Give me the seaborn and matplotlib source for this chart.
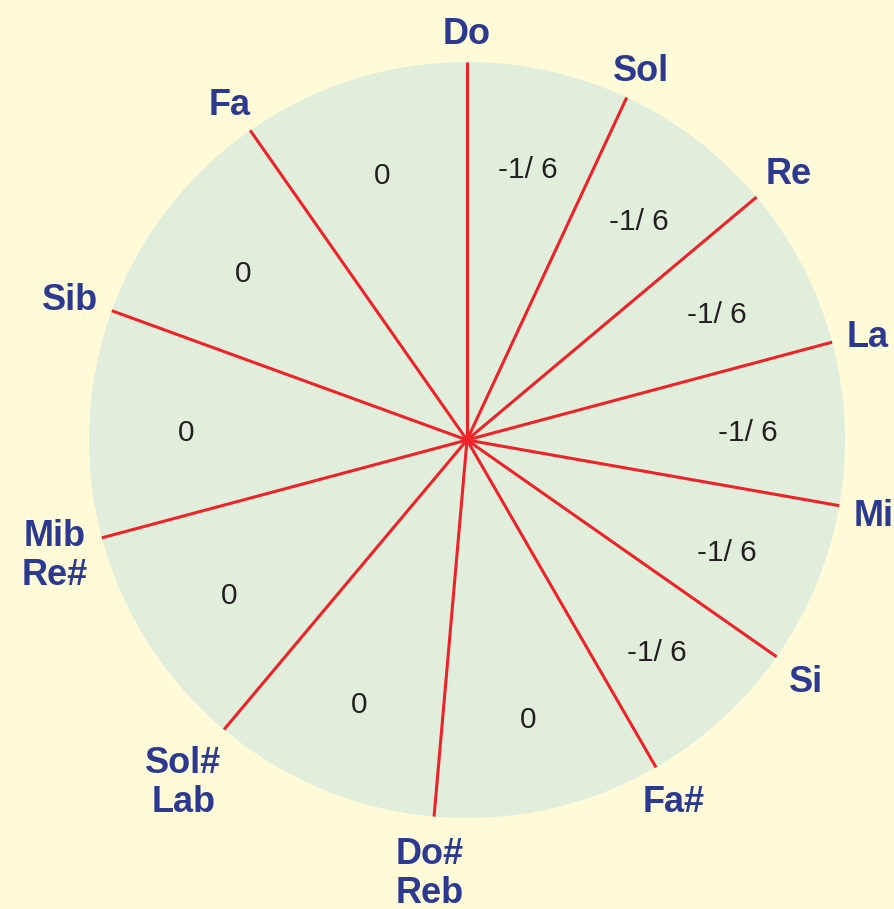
import numpy as np
import matplotlib
matplotlib.use("Agg")
import matplotlib.pyplot as plt
import seaborn as sns

# ---- data ----
notes = ["Do", "Sol", "Re", "La", "Mi", "Si", "Fa#", "Do#\nReb",
         "Sol#\nLab", "Mib\nRe#", "Sib", "Fa"]
deviations = ["-1/ 6"] * 6 + ["0"] * 6
spans = [25] * 6 + [35] * 6   # angular width of each fifth (degrees)

# ---- style ----
sns.set_theme(style="white")
plt.rcParams["font.family"] = ["Liberation Sans", "DejaVu Sans"]

BG = "#FFFBD9"
DISC = "#E1EEDC"
RED = "#EE2229"
BLUE = "#2B3990"
INK = "#231F20"
R = 378.0

fig = plt.figure(figsize=(8.95, 9.09), dpi=100)
fig.patch.set_facecolor(BG)
ax = fig.add_axes([0, 0, 1, 1])
ax.set_facecolor(BG)

ax.pie(spans, radius=R, center=(0, 0), startangle=90, counterclock=False,
       colors=[DISC] * len(spans), wedgeprops=dict(linewidth=0, edgecolor="none"))

ax.set_xlim(-467, 428)
ax.set_ylim(-469, 440)
ax.set_aspect("equal")
ax.axis("off")

# boundary angles (math convention, degrees)
bounds = 90 - np.concatenate([[0], np.cumsum(spans)])
starts = bounds[:-1]
mids = starts - np.array(spans) / 2.0

# radial red lines
for a in starts:
    t = np.deg2rad(a)
    ax.plot([0, R * np.cos(t)], [0, R * np.sin(t)], color=RED, lw=2.2,
            solid_capstyle="butt", zorder=3)

# deviation labels inside wedges
for a, lab in zip(mids, deviations):
    t = np.deg2rad(a)
    ax.text(0.745 * R * np.cos(t), 0.745 * R * np.sin(t) - 5, lab, ha="center",
            va="center", fontsize=21.5, color=INK, zorder=4)

# note labels outside, pushed out according to their extents
texts = []
for lab in notes:
    texts.append(ax.text(0, 0, lab, ha="center", va="center", fontsize=26,
                         fontweight="bold", color=BLUE, linespacing=1.15,
                         zorder=4))
fig.canvas.draw()
renderer = fig.canvas.get_renderer()
pad = 15.0
for a, txt in zip(starts, texts):
    bb = txt.get_window_extent(renderer)
    w, h = bb.width, bb.height
    t = np.deg2rad(a)
    ux, uy = np.cos(t), np.sin(t)
    cands = []
    if abs(ux) > 1e-6:
        cands.append(w / 2 / abs(ux))
    if abs(uy) > 1e-6:
        cands.append(h / 2 / abs(uy))
    ext = min(cands)
    r = R + pad + ext
    txt.set_position((r * ux, r * uy - 5))

fig.savefig("out.png", dpi=100, facecolor=BG)
